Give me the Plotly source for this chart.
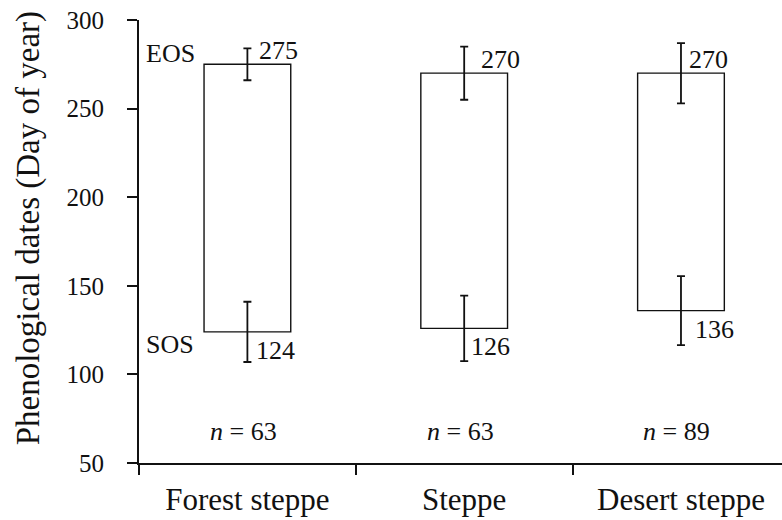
import plotly.graph_objects as go

# Mean start (SOS) and end (EOS) of season per region, day of year
regions = ["Forest steppe", "Steppe", "Desert steppe"]
sos_mean = [124, 126, 136]
eos_mean = [275, 270, 270]
sos_sd = [17, 18.5, 19.5]
eos_sd = [9, 15, 17]
sample_n = [63, 63, 89]

# horizontal nudges (px) for the value labels beside each error bar
eos_label_dx = [10, 15, 6]
sos_label_dx = [7, 5, 12]

FONT = "Liberation Serif, Times New Roman, Times, serif"
INK = "#111111"

fig = go.Figure()

# floating bars spanning SOS..EOS
fig.add_trace(go.Bar(
    x=regions,
    y=[e - s for e, s in zip(eos_mean, sos_mean)],
    base=sos_mean,
    width=0.4,
    marker=dict(color="white", line=dict(color=INK, width=1.4)),
    hoverinfo="skip",
))

# error bars at both ends of each bar
for means, sds in ((eos_mean, eos_sd), (sos_mean, sos_sd)):
    fig.add_trace(go.Scatter(
        x=regions, y=means, mode="markers",
        marker=dict(size=1, opacity=0),
        error_y=dict(type="data", array=sds, visible=True,
                     color=INK, thickness=1.8, width=4),
        hoverinfo="skip",
    ))

annotations = []
for i, r in enumerate(regions):
    annotations.append(dict(
        x=r, y=eos_mean[i], text=str(eos_mean[i]), showarrow=False,
        xanchor="left", yanchor="bottom", xshift=eos_label_dx[i], yshift=-3,
        font=dict(family=FONT, size=26, color=INK)))
    annotations.append(dict(
        x=r, y=sos_mean[i], text=str(sos_mean[i]), showarrow=False,
        xanchor="left", yanchor="top", xshift=sos_label_dx[i], yshift=-2,
        font=dict(family=FONT, size=26, color=INK)))
    annotations.append(dict(
        x=r, y=68, text=f"<i>n</i> = {sample_n[i]}", showarrow=False,
        xanchor="center", yanchor="middle", xshift=-4,
        font=dict(family=FONT, size=26, color=INK)))

# phase names beside the first bar
annotations.append(dict(
    x=-0.5, y=eos_mean[0], text="EOS", showarrow=False,
    xanchor="left", yanchor="bottom", xshift=5, yshift=-6,
    font=dict(family=FONT, size=26, color=INK)))
annotations.append(dict(
    x=-0.5, y=sos_mean[0], text="SOS", showarrow=False,
    xanchor="left", yanchor="top", xshift=5, yshift=4,
    font=dict(family=FONT, size=26, color=INK)))

# y-axis title
annotations.append(dict(
    xref="paper", yref="paper", x=-0.1716, y=0.529,
    text="Phenological dates (Day of year)", textangle=-90, showarrow=False,
    xanchor="center", yanchor="middle",
    font=dict(family=FONT, size=33, color=INK)))

fig.update_layout(
    width=782, height=520,
    margin=dict(l=139, r=0, t=20, b=57, autoexpand=False),
    paper_bgcolor="white", plot_bgcolor="white",
    showlegend=False,
    font=dict(family=FONT, color=INK),
    annotations=annotations,
    xaxis=dict(
        type="category", range=[-0.5, 2.466], automargin=False,
        tickson="boundaries", ticks="outside", ticklen=10, tickwidth=1.5,
        tickcolor=INK, showline=True, linecolor=INK, linewidth=1.8,
        showgrid=False, zeroline=False, ticklabelstandoff=8, tickangle=0,
        tickfont=dict(family=FONT, size=31, color=INK),
    ),
    yaxis=dict(
        range=[50, 300], tickvals=[50, 100, 150, 200, 250, 300],
        automargin=False,
        ticks="outside", ticklen=10, tickwidth=1.5, tickcolor=INK,
        showline=True, linecolor=INK, linewidth=1.8,
        showgrid=False, zeroline=False, ticklabelstandoff=18,
        tickfont=dict(family=FONT, size=25, color=INK),
    ),
)

fig.write_html("out.html")
